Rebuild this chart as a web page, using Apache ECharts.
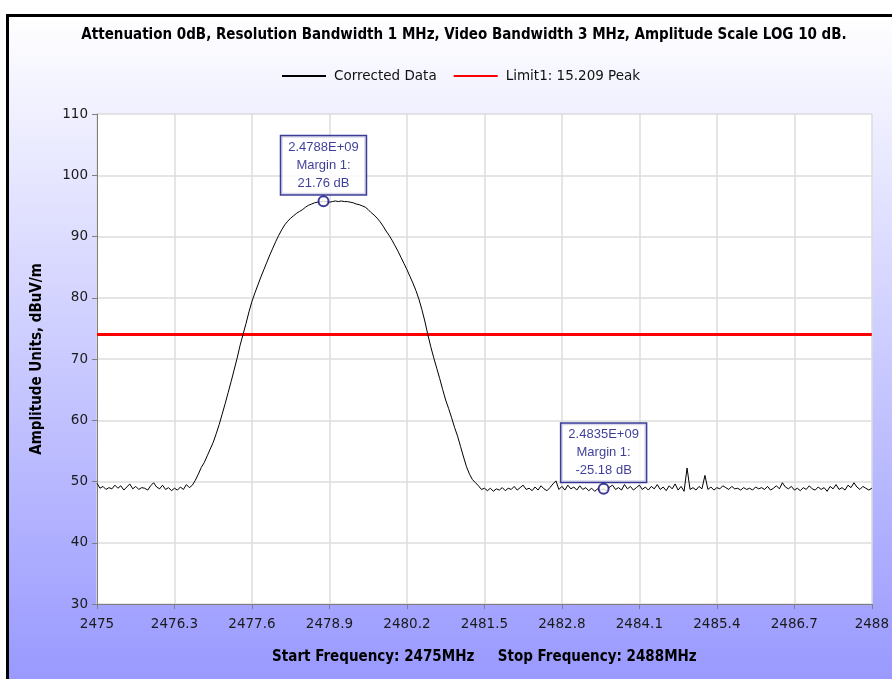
<!DOCTYPE html>
<html>
<head>
<meta charset="utf-8">
<script src="https://cdn.jsdelivr.net/npm/echarts@6/dist/echarts.min.js"></script>
<style>
html, body { margin: 0; padding: 0; background: #fff; }
#main { width: 892px; height: 679px; }
</style>
</head>
<body>
<div id="main"></div>
<script>
// sweep: 2475 - 2488 MHz, one point every 0.05 MHz
var sweepStart = 2475
var sweepStop = 2488
var sweepStep = 0.05

// noise floor below the carrier, 2475.00 .. 2476.60
var floorLow = [
  49.7, 48.9, 49.2, 48.7, 49.0, 48.8, 49.4, 48.9, 49.3, 48.6,
  49.1, 49.6, 48.8, 49.2, 48.7, 49.0, 48.9, 48.6, 49.3, 49.8,
  49.1, 48.8, 49.4, 48.7, 49.0, 48.5, 48.9, 48.6, 49.1, 48.7,
  49.5, 49.0, 49.4
]
// carrier, 2476.65 .. 2481.50
var carrier = [
  50.2, 51.2, 52.3, 53.1, 54.2, 55.3, 56.4, 57.8, 59.3, 61.0,
  62.7, 64.5, 66.3, 68.2, 70.1, 72.2, 74.0, 75.8, 77.7, 79.4,
  80.8, 82.1, 83.4, 84.6, 85.8, 87.0, 88.1, 89.2, 90.2, 91.1,
  91.9, 92.5, 93.0, 93.4, 93.8, 94.1, 94.4, 94.8, 95.1, 95.3,
  95.5, 95.6, 95.7, 95.76, 95.7, 95.6, 95.7, 95.8, 95.7, 95.8,
  95.7, 95.7, 95.6, 95.5, 95.3, 95.2, 95.0, 94.8, 94.4, 93.9,
  93.5, 93.0, 92.4, 91.7, 90.9, 90.2, 89.4, 88.5, 87.6, 86.6,
  85.6, 84.6, 83.5, 82.4, 81.2, 79.8, 78.1, 76.2, 74.0, 72.0,
  70.2, 68.5, 66.8, 65.0, 63.3, 61.9, 60.4, 58.8, 57.4, 55.7,
  54.0, 52.4, 51.2, 50.3, 49.8, 49.3, 48.7, 48.9
]
// noise floor above the carrier, 2481.55 .. 2488.00
var floorHigh = [
  48.5, 48.9, 48.4, 48.8, 48.6, 49.0, 48.5, 48.9, 48.7, 49.2,
  48.6, 49.0, 49.4, 48.7, 48.9, 48.5, 49.1, 48.6, 49.3, 48.8,
  48.5, 49.0, 49.6, 50.1, 48.7, 49.2, 48.6, 49.4, 48.8, 49.1,
  48.6, 49.3, 48.7, 49.0, 48.5, 48.9, 48.4, 48.8, 48.6, 48.82,
  48.5, 49.1, 49.4, 48.7, 49.0, 48.6, 49.5, 48.8, 49.2, 48.6,
  49.0, 49.4, 48.7, 49.1, 48.6, 49.2, 48.8, 49.5, 48.7, 49.1,
  48.5, 49.3, 48.8, 49.6, 48.6, 49.2, 48.4, 52.2, 48.7, 49.0,
  48.6, 49.2, 48.8, 51.0, 48.7, 49.1, 48.6, 49.0, 48.8, 49.3,
  49.0, 48.7, 49.2, 48.8, 48.9, 48.6, 49.0, 48.7, 48.9, 48.6,
  49.1, 48.8, 49.0, 48.7, 49.2, 48.6, 48.9, 49.3, 48.8, 49.8,
  49.1, 48.8, 49.2, 48.6, 48.9, 48.5, 49.0, 48.7, 49.3, 48.8,
  48.6, 49.1, 48.7, 49.0, 48.4, 49.2, 48.8, 49.5, 48.7, 49.0,
  48.6, 49.4, 49.0, 49.8, 49.1, 48.7, 49.2, 48.9, 48.6, 48.9
]
var limitLevel = 74
var markerFreqs = [2478.8, 2483.5]
var markerLevels = [95.76, 48.82]
var yTicks = { min: 30, max: 110, step: 10 }
var xTickStep = 1.3

var levels = floorLow.concat(carrier, floorHigh)
// x axis runs as offset from sweepStart so the 1.3 MHz ticks start at 0
var traceData = levels.map(function (v, i) {
  return [+(i * sweepStep).toFixed(2), v]
})
var markerData = markerFreqs.map(function (f, i) {
  return [f - sweepStart, markerLevels[i]]
})

var navy = '#0c0c80'
var fontSans = '"DejaVu Sans", sans-serif'
var fontBold = '"DejaVu Sans Condensed", "DejaVu Sans", sans-serif'

var chart = echarts.init(document.getElementById('main'))
chart.setOption({
  animation: false,
  backgroundColor: '#fff',
  graphic: [
    {
      type: 'rect',
      z: -100,
      shape: { x: 7.5, y: 15.5, width: 890, height: 670 },
      style: {
        fill: new echarts.graphic.LinearGradient(0, 0, 0, 1, [
          { offset: 0, color: '#ffffff' },
          { offset: 1, color: '#9898ff' }
        ]),
        stroke: '#000',
        lineWidth: 3
      }
    },
    {
      type: 'text',
      x: 464,
      y: 35,
      style: {
        text: 'Attenuation 0dB, Resolution Bandwidth 1 MHz, Video Bandwidth 3 MHz, Amplitude Scale LOG 10 dB.',
        align: 'center',
        verticalAlign: 'middle',
        font: 'bold 15px ' + fontBold,
        fill: '#000'
      }
    }
  ],
  legend: {
    left: 281,
    top: 69,
    padding: 0,
    itemWidth: 44,
    itemHeight: 14,
    itemGap: 16,
    itemStyle: { opacity: 0 },
    textStyle: { fontFamily: fontSans, fontSize: 13.5, color: '#111', padding: [0, 0, 0, 3] },
    data: ['Corrected Data', 'Limit1: 15.209 Peak']
  },
  grid: {
    left: 97,
    right: 17,
    top: 114,
    bottom: 75,
    show: true,
    backgroundColor: '#fff',
    borderWidth: 0
  },
  xAxis: {
    type: 'value',
    min: 0,
    max: sweepStop - sweepStart,
    interval: xTickStep,
    name: 'Start Frequency: 2475MHz     Stop Frequency: 2488MHz',
    nameLocation: 'middle',
    nameGap: 46,
    nameTextStyle: { fontFamily: fontBold, fontWeight: 'bold', fontSize: 15, color: '#000' },
    axisLine: { lineStyle: { color: '#7f7f7f', width: 1 } },
    axisTick: { show: true, length: 5, lineStyle: { color: '#7f7f7f' } },
    axisLabel: {
      margin: 13,
      fontFamily: fontSans,
      fontSize: 13.5,
      color: '#1a1a1a',
      formatter: function (v) { return String(+(sweepStart + v).toFixed(1)) }
    },
    splitLine: { show: true, lineStyle: { color: '#dcdcdc', width: 1.5 } }
  },
  yAxis: {
    type: 'value',
    min: yTicks.min,
    max: yTicks.max,
    interval: yTicks.step,
    name: 'Amplitude Units, dBuV/m',
    nameLocation: 'middle',
    nameGap: 52,
    nameTextStyle: { fontFamily: fontBold, fontWeight: 'bold', fontSize: 15, color: '#000' },
    axisLine: { show: true, lineStyle: { color: '#7f7f7f', width: 1 } },
    axisTick: { show: true, length: 5, lineStyle: { color: '#7f7f7f' } },
    axisLabel: { margin: 9, fontFamily: fontSans, fontSize: 13.5, color: '#1a1a1a' },
    splitLine: { show: true, lineStyle: { color: '#dcdcdc', width: 1.5 } }
  },
  series: [
    {
      name: 'Corrected Data',
      type: 'line',
      symbol: 'none',
      color: '#000',
      lineStyle: { color: '#000', width: 1 },
      data: traceData,
      z: 3
    },
    {
      name: 'Limit1: 15.209 Peak',
      type: 'line',
      symbol: 'none',
      color: '#ff0000',
      lineStyle: { color: '#ff0000', width: 3 },
      data: [[0, limitLevel], [sweepStop - sweepStart, limitLevel]],
      z: 2
    },
    {
      name: 'markers',
      type: 'scatter',
      symbol: 'emptyCircle',
      symbolSize: 10,
      itemStyle: { color: navy, borderColor: navy, borderWidth: 1 },
      z: 5,
      label: {
        show: true,
        position: 'top',
        distance: 1,
        formatter: function (p) {
          var f = markerFreqs[p.dataIndex]
          var margin = markerLevels[p.dataIndex] - limitLevel
          return (f / 1000).toFixed(4) + 'E+09\nMargin 1:\n' + margin.toFixed(2) + ' dB'
        },
        fontFamily: '"Liberation Sans", Arial, sans-serif',
        fontSize: 13,
        lineHeight: 18,
        color: navy,
        backgroundColor: '#fff',
        borderColor: navy,
        borderWidth: 1.5,
        padding: [2, 7, 2, 7],
        align: 'center'
      },
      data: markerData
    }
  ]
})
</script>
</body>
</html>
